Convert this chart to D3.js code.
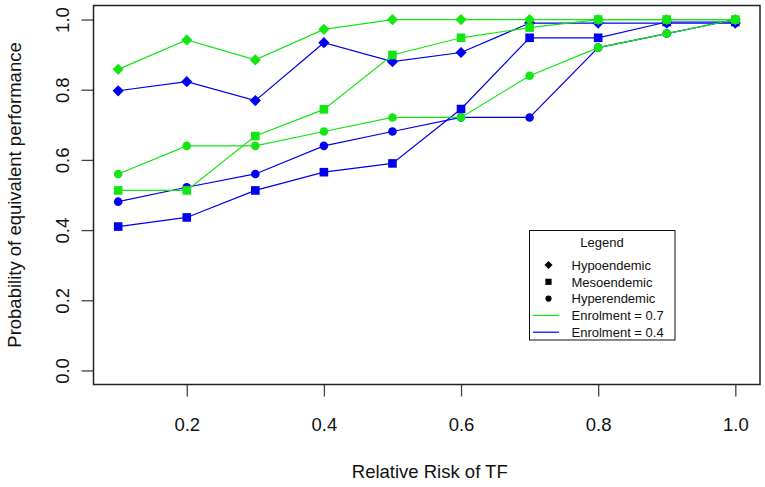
<!DOCTYPE html>
<html>
<head>
<meta charset="utf-8">
<script src="https://cdn.jsdelivr.net/npm/d3@7"></script>
<style>
  html, body { margin: 0; padding: 0; background: #fff; }
  svg { display: block; font-family: "Liberation Sans", Arial, sans-serif; }
</style>
</head>
<body>
<svg id="chart" width="765" height="487"></svg>
<script>
// ---- Data ----
const relativeRisk = [0.1, 0.2, 0.3, 0.4, 0.5, 0.6, 0.7, 0.8, 0.9, 1.0];
const hypoEnrol04  = [0.797, 0.823, 0.769, 0.934, 0.880, 0.906, 0.990, 0.990, 0.990, 0.990];
const mesoEnrol04  = [0.410, 0.436, 0.513, 0.565, 0.590, 0.745, 0.948, 0.948, 0.993, 0.993];
const hyperEnrol04 = [0.481, 0.522, 0.560, 0.640, 0.681, 0.721, 0.721, 0.920, 0.960, 1.000];
const hypoEnrol07  = [0.858, 0.942, 0.885, 0.972, 1.000, 1.000, 1.000, 1.000, 1.000, 1.000];
const mesoEnrol07  = [0.513, 0.513, 0.668, 0.744, 0.899, 0.948, 0.977, 1.000, 1.000, 1.000];
const hyperEnrol07 = [0.560, 0.640, 0.640, 0.681, 0.721, 0.721, 0.840, 0.920, 0.960, 1.000];
const xTicks = [0.2, 0.4, 0.6, 0.8, 1.0];
const yTicks = [0.0, 0.2, 0.4, 0.6, 0.8, 1.0];
const legendShapes = ["Hypoendemic", "Mesoendemic", "Hyperendemic"];
const legendLines = ["Enrolment = 0.7", "Enrolment = 0.4"];

const GREEN = "#14e614";
const BLUE = "#0000ee";

const series = [
  { values: hypoEnrol04, shape: "diamond", color: BLUE },
  { values: mesoEnrol04, shape: "square", color: BLUE },
  { values: hyperEnrol04, shape: "circle", color: BLUE },
  { values: hypoEnrol07, shape: "diamond", color: GREEN },
  { values: mesoEnrol07, shape: "square", color: GREEN },
  { values: hyperEnrol07, shape: "circle", color: GREEN }
];

// ---- Layout ----
const L = 93.5, R = 760, T = 5.5, B = 384.5;
const svg = d3.select("#chart");
const x = d3.scaleLinear().domain([0.064, 1.036]).range([L, R]);
const y = d3.scaleLinear().domain([-0.04, 1.04]).range([B, T]);
const fmt = d3.format(".1f");
const FS = 18.5;

// X axis
const gx = svg.append("g").attr("transform", `translate(0,${B})`)
  .call(d3.axisBottom(x).tickValues(xTicks).tickSize(12).tickFormat(fmt));
gx.select(".domain").remove();
gx.selectAll(".tick line").attr("stroke", "#444").attr("stroke-width", 1.3);
gx.selectAll(".tick text").attr("y", 46.5).attr("dy", null)
  .attr("font-size", FS).attr("font-family", "Liberation Sans, Arial").attr("fill", "#111");

// Y axis
const gy = svg.append("g").attr("transform", `translate(${L},0)`)
  .call(d3.axisLeft(y).tickValues(yTicks).tickSize(12).tickFormat(fmt));
gy.select(".domain").remove();
gy.selectAll(".tick line").attr("stroke", "#444").attr("stroke-width", 1.3);
gy.selectAll(".tick text")
  .attr("x", null).attr("y", null).attr("dy", null)
  .attr("text-anchor", "middle")
  .attr("transform", "translate(-25,0) rotate(-90)")
  .attr("font-size", FS).attr("font-family", "Liberation Sans, Arial").attr("fill", "#111");

// Box
svg.append("rect").attr("x", L).attr("y", T).attr("width", R - L).attr("height", B - T)
  .attr("fill", "none").attr("stroke", "#222").attr("stroke-width", 1.5);

// Axis titles
svg.append("text").attr("x", (L + R) / 2 + 3).attr("y", 478)
  .attr("text-anchor", "middle").attr("font-size", FS).attr("fill", "#111")
  .text("Relative Risk of TF");
svg.append("text").attr("transform", `translate(21,${(T + B) / 2}) rotate(-90)`)
  .attr("text-anchor", "middle").attr("font-size", FS).attr("fill", "#111")
  .text("Probability of equivalent performance");

// Marker drawing
function marker(g, shape, cx, cy, color, s) {
  if (shape === "diamond") {
    const h = 5.6 * s;
    g.append("path").attr("d", `M${cx},${cy - h}L${cx + h},${cy}L${cx},${cy + h}L${cx - h},${cy}Z`).attr("fill", color);
  } else if (shape === "square") {
    const h = 4.3 * s;
    g.append("rect").attr("x", cx - h).attr("y", cy - h).attr("width", 2 * h).attr("height", 2 * h).attr("fill", color);
  } else {
    g.append("circle").attr("cx", cx).attr("cy", cy).attr("r", 4.3 * s).attr("fill", color);
  }
}

const line = d3.line().x((d, i) => x(relativeRisk[i])).y(d => y(d));
const plot = svg.append("g");
series.forEach(s => {
  plot.append("path").datum(s.values).attr("d", line)
    .attr("fill", "none").attr("stroke", s.color).attr("stroke-width", 1.2);
  s.values.forEach((v, i) => marker(plot, s.shape, x(relativeRisk[i]), y(v), s.color, 1));
});

// Legend
const lg = svg.append("g");
lg.append("rect").attr("x", 529.5).attr("y", 230.5).attr("width", 145.5).attr("height", 109.5)
  .attr("fill", "#fff").attr("stroke", "#111").attr("stroke-width", 1);
lg.append("text").attr("x", 602).attr("y", 247).attr("text-anchor", "middle")
  .attr("font-size", 13).attr("fill", "#111").text("Legend");
const rowY = i => 265 + i * 16.8;
legendShapes.forEach((t, i) => {
  marker(lg, ["diamond", "square", "circle"][i], 548.5, rowY(i), "#000", 0.72);
  lg.append("text").attr("x", 571.5).attr("y", rowY(i) + 4.7).attr("font-size", 13)
    .attr("fill", "#111").text(t);
});
legendLines.forEach((t, j) => {
  const i = j + 3;
  lg.append("line").attr("x1", 533).attr("x2", 559).attr("y1", rowY(i)).attr("y2", rowY(i))
    .attr("stroke", j === 0 ? GREEN : BLUE).attr("stroke-width", 1.2);
  lg.append("text").attr("x", 571.5).attr("y", rowY(i) + 4.7).attr("font-size", 13)
    .attr("fill", "#111").text(t);
});
</script>
</body>
</html>
